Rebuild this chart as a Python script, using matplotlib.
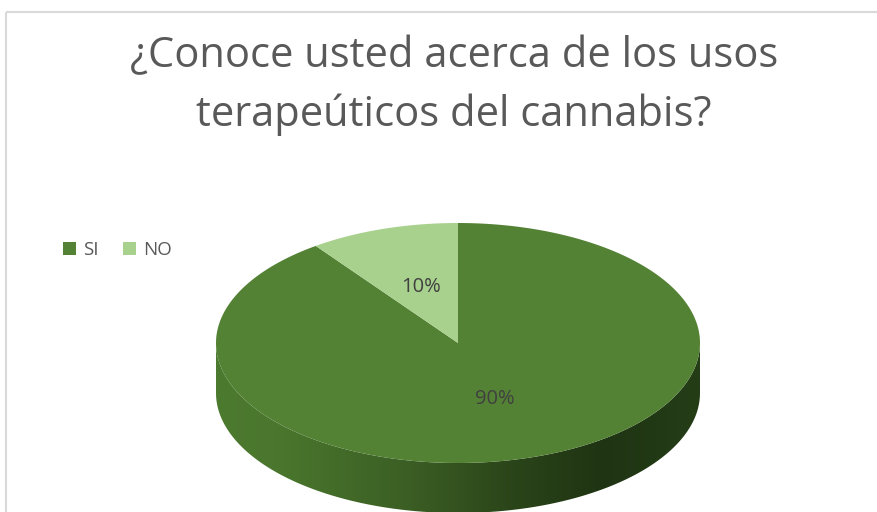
import matplotlib.pyplot as plt
import numpy as np
from matplotlib.patches import Polygon, Patch, Rectangle
from matplotlib.colors import LinearSegmentedColormap

# data
categories = ['SI', 'NO']
values = [90, 10]
colors = ['#548235', '#a9d18e']
title = '¿Conoce usted acerca de los usos\nterapeúticos del cannabis?'

# pie geometry (pixels)
cx, cy = 458, 343
a, b = 242, 120
depth = 50

fig = plt.figure(figsize=(8.78, 5.12), dpi=100)
ax = fig.add_axes([0, 0, 1, 1])
ax.set_xlim(0, 878)
ax.set_ylim(512, 0)
ax.axis('off')


def ell(t, dy=0.0):
    t = np.radians(t)
    return np.column_stack([cx + a * np.cos(t), cy + dy - b * np.sin(t)])


# side of the cake (front half only)
t_front = np.linspace(180, 360, 200)
side = np.vstack([ell(t_front), ell(t_front[::-1], depth)])
side_patch = Polygon(side, closed=True, facecolor='none', edgecolor='none')
ax.add_patch(side_patch)
side_cmap = LinearSegmentedColormap.from_list(
    'side', [(0.0, '#4c7a2f'), (0.12, '#4a772d'), (0.40, '#3b5e24'),
             (0.62, '#2a4419'), (0.80, '#1f3413'), (1.0, '#243d17')])
grad = np.linspace(0, 1, 300).reshape(1, -1)
im = ax.imshow(grad, cmap=side_cmap, aspect='auto',
               extent=[cx - a, cx + a, cy + depth + b + 2, cy - 2], zorder=1)
im.set_clip_path(side_patch)

# top surface wedges, starting at 12 o'clock going clockwise
start = 90.0
total = float(sum(values))
for cat, val, col in zip(categories, values, colors):
    sweep = 360.0 * val / total
    t = np.linspace(start, start - sweep, max(int(sweep * 2), 10))
    pts = np.vstack([[cx, cy], ell(t)])
    ax.add_patch(Polygon(pts, closed=True, facecolor=col, edgecolor='none', zorder=2))
    mid = np.radians(start - sweep / 2)
    r = 0.49
    ax.text(cx + r * a * np.cos(mid), cy - r * b * np.sin(mid), f'{val:.0f}%',
            ha='center', va='center', fontsize=14.5, color='#404040',
            family='Open Sans', zorder=3)
    start -= sweep

# title
fig.text(0.517, 1 - 86 / 512, title, ha='center', va='center', fontsize=30,
         color='#595959', family='Open Sans', linespacing=1.5)

# legend
handles = [Patch(facecolor=c, edgecolor='none') for c in colors]
leg = fig.legend(handles, categories, loc='center left', ncol=2,
                 bbox_to_anchor=(46 / 878, 1 - 250 / 512), frameon=False,
                 prop={'family': 'Open Sans', 'size': 13.5},
                 handlelength=0.72, handleheight=0.72, handletextpad=0.35,
                 columnspacing=1.3)
for t in leg.get_texts():
    t.set_color('#595959')

# chart border
ax.add_patch(Rectangle((6, 12), 900, 520, fill=False, edgecolor='#d9d9d9',
                       linewidth=1.5, zorder=0))

fig.savefig('out.png', dpi=100)
